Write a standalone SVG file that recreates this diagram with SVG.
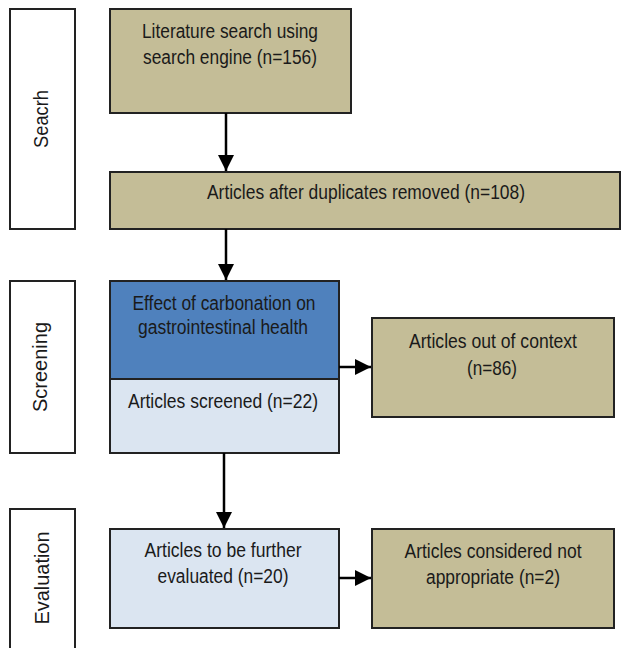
<svg xmlns="http://www.w3.org/2000/svg" width="622" height="648" viewBox="0 0 622 648">
<style>
text{font-family:"Liberation Sans Narrow","Liberation Sans",Arial,sans-serif;font-size:20px;fill:#1a1a1a;text-anchor:middle}
.box{stroke:#222;stroke-width:2}
.tan{fill:#C4BD97}
.blue{fill:#4F81BD}
.light{fill:#DBE5F1}
.lab{fill:#fff}
.con{stroke:#000;stroke-width:2.5;fill:none;marker-end:url(#ah)}
</style>
<defs>
<marker id="ah" markerUnits="userSpaceOnUse" markerWidth="16" markerHeight="16" viewBox="0 0 16 16" refX="16" refY="8" orient="auto">
<path d="M0,0 L16,8 L0,16 Z" fill="#000"/>
</marker>
</defs>
<g id="label-search"><rect class="box lab" x="10" y="9" width="65" height="220"/><text transform="translate(48,119) rotate(-90)" textLength="58" lengthAdjust="spacingAndGlyphs">Seacrh</text></g>
<g id="label-screening"><rect class="box lab" x="10" y="281" width="65" height="172"/><text transform="translate(47,367) rotate(-90)" textLength="90" lengthAdjust="spacingAndGlyphs">Screening</text></g>
<g id="label-evaluation"><rect class="box lab" x="10" y="509" width="65" height="145"/><text transform="translate(49,578) rotate(-90)" textLength="93" lengthAdjust="spacingAndGlyphs">Evaluation</text></g>
<g id="n-literature"><rect class="box tan" x="110" y="9" width="241" height="104"/>
<text x="230" y="38" textLength="176" lengthAdjust="spacingAndGlyphs">Literature search using</text>
<text x="230" y="64" textLength="174" lengthAdjust="spacingAndGlyphs">search engine (n=156)</text></g>
<g id="n-duplicates"><rect class="box tan" x="110" y="172" width="510" height="57"/>
<text x="366" y="199" textLength="318" lengthAdjust="spacingAndGlyphs">Articles after duplicates removed (n=108)</text></g>
<g id="n-screened"><rect class="box blue" x="110" y="281" width="229" height="98"/><rect class="box light" x="110" y="379" width="229" height="74"/>
<text x="224" y="310" textLength="183" lengthAdjust="spacingAndGlyphs">Effect of carbonation on</text>
<text x="223" y="334" textLength="170" lengthAdjust="spacingAndGlyphs">gastrointestinal health</text>
<text x="223" y="408" textLength="190" lengthAdjust="spacingAndGlyphs">Articles screened (n=22)</text></g>
<g id="n-context"><rect class="box tan" x="372" y="318" width="242" height="99"/>
<text x="493" y="348" textLength="168" lengthAdjust="spacingAndGlyphs">Articles out of context</text>
<text x="492" y="375" textLength="50" lengthAdjust="spacingAndGlyphs">(n=86)</text></g>
<g id="n-evaluated"><rect class="box light" x="110" y="529" width="229" height="99"/>
<text x="223" y="557" textLength="157" lengthAdjust="spacingAndGlyphs">Articles to be further</text>
<text x="223" y="583" textLength="131" lengthAdjust="spacingAndGlyphs">evaluated (n=20)</text></g>
<g id="n-notappropriate"><rect class="box tan" x="372" y="529" width="242" height="99"/>
<text x="493" y="558" textLength="177" lengthAdjust="spacingAndGlyphs">Articles considered not</text>
<text x="493" y="584" textLength="134" lengthAdjust="spacingAndGlyphs">appropriate (n=2)</text></g>
<g id="connectors">
<line class="con" x1="226" y1="113" x2="226" y2="171"/>
<line class="con" x1="226" y1="229" x2="226" y2="280"/>
<line class="con" x1="339" y1="367" x2="371" y2="367"/>
<line class="con" x1="224" y1="453" x2="224" y2="528"/>
<line class="con" x1="339" y1="578" x2="371" y2="578"/>
</g>
</svg>
